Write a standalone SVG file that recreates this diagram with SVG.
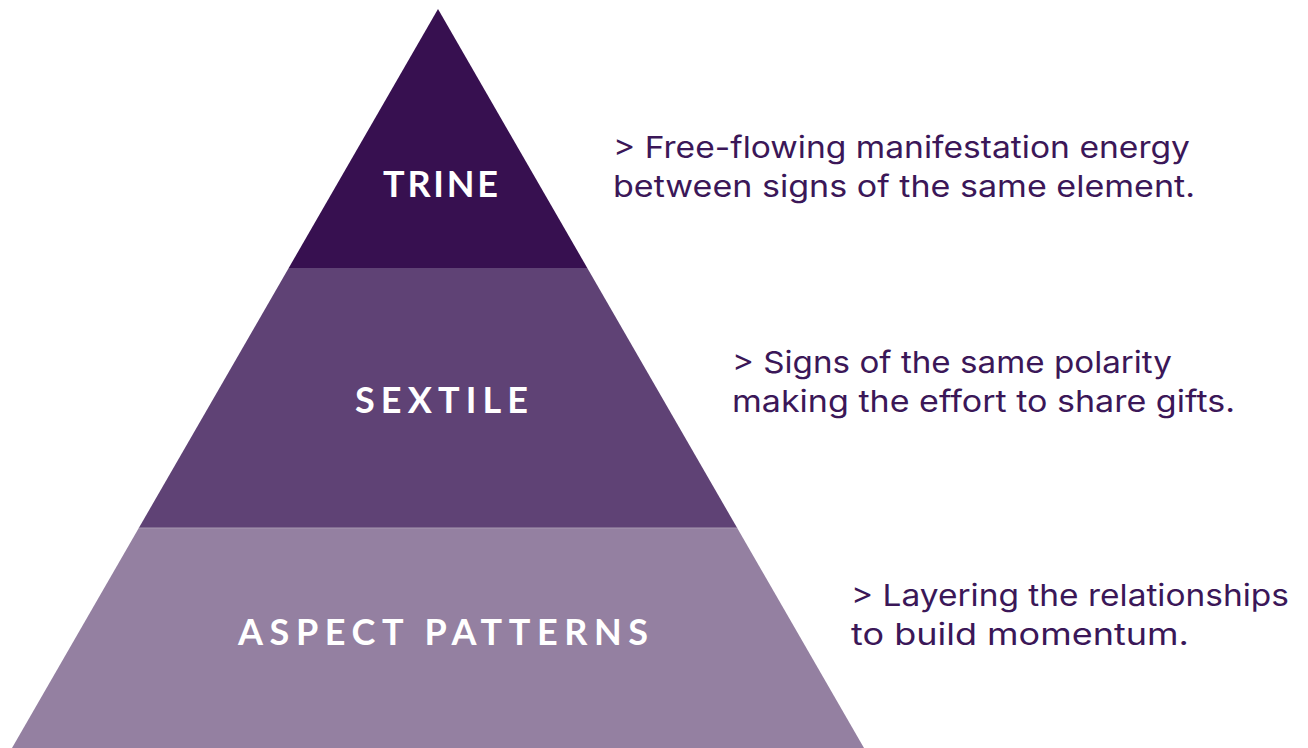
<svg xmlns="http://www.w3.org/2000/svg" width="1308" height="748" viewBox="0 0 1308 748">
<style>
.lbl{font-family:"Lato","Open Sans","Liberation Sans",sans-serif;font-weight:700;font-size:36px;fill:#ffffff}
.desc{font-family:"Inter","Open Sans","Liberation Sans",sans-serif;font-size:30px;fill:#3b1758}
</style>
<rect width="1308" height="748" fill="#ffffff"/>
<g id="trine">
<polygon points="438,9 288.7,268 587.3,268" fill="#371050"/>
<text class="lbl" x="383" y="197" textLength="115" lengthAdjust="spacing">TRINE</text>
</g>
<g id="sextile">
<polygon points="288.7,268 587.3,268 737.2,528 138.8,528" fill="#5f4275"/>
<text class="lbl" x="355" y="413" textLength="173" lengthAdjust="spacing">SEXTILE</text>
</g>
<g id="aspect-patterns">
<polygon points="138.8,528 737.2,528 864,748 12,748" fill="#9480a1"/>
<line x1="138.8" y1="528" x2="737.2" y2="528" stroke="#a898b2" stroke-width="1"/>
<text class="lbl" x="238" y="645" textLength="410" lengthAdjust="spacing">ASPECT PATTERNS</text>
</g>
<g id="desc-trine">
<text class="desc" x="613" y="158" textLength="577" lengthAdjust="spacingAndGlyphs">&gt; Free-flowing manifestation energy</text>
<text class="desc" x="613" y="197" textLength="582" lengthAdjust="spacingAndGlyphs">between signs of the same element.</text>
</g>
<g id="desc-sextile">
<text class="desc" x="732" y="373" textLength="440" lengthAdjust="spacingAndGlyphs">&gt; Signs of the same polarity</text>
<text class="desc" x="732" y="412" textLength="503" lengthAdjust="spacingAndGlyphs">making the effort to share gifts.</text>
</g>
<g id="desc-aspect">
<text class="desc" x="851" y="606" textLength="438" lengthAdjust="spacingAndGlyphs">&gt; Layering the relationships</text>
<text class="desc" x="851" y="645" textLength="338" lengthAdjust="spacingAndGlyphs">to build momentum.</text>
</g>
</svg>
